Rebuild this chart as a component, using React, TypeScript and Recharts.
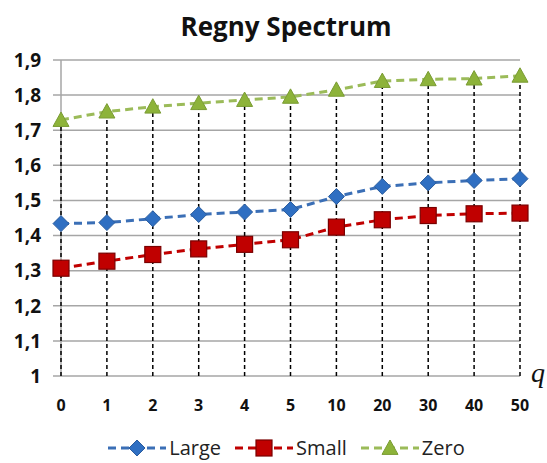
import React from 'react';
import { LineChart, Line, XAxis, YAxis, CartesianGrid, ReferenceLine, Legend } from 'recharts';

const categories = ['0', '1', '2', '3', '4', '5', '10', '20', '30', '40', '50'];
const largeValues = [1.434, 1.437, 1.448, 1.46, 1.467, 1.474, 1.511, 1.54, 1.55, 1.557, 1.562];
const smallValues = [1.307, 1.327, 1.346, 1.362, 1.375, 1.388, 1.424, 1.445, 1.457, 1.462, 1.464];
const zeroValues = [1.729, 1.753, 1.767, 1.777, 1.786, 1.795, 1.815, 1.84, 1.845, 1.847, 1.855];
const yTicks = [1, 1.1, 1.2, 1.3, 1.4, 1.5, 1.6, 1.7, 1.8, 1.9];
const seriesNames = ['Large', 'Small', 'Zero'];

const data = categories.map((q, i) => ({
  q,
  Large: largeValues[i],
  Small: smallValues[i],
  Zero: zeroValues[i],
}));

const COLORS = {
  Large: { line: '#3b6fb6', fill: '#2f6fc2', stroke: '#2a5c9e' },
  Small: { line: '#c00000', fill: '#c00000', stroke: '#7a0000' },
  Zero: { line: '#9bbb59', fill: '#8db33a', stroke: '#7a9c33' },
};

const FONT = '"Open Sans", "DejaVu Sans", sans-serif';

function marker(name: string, cx: number, cy: number, s: number, key?: any) {
  const c = (COLORS as any)[name];
  if (name === 'Large') {
    return (
      <path key={key} d={`M${cx},${cy - s}L${cx + s},${cy}L${cx},${cy + s}L${cx - s},${cy}Z`} fill={c.fill} stroke={c.stroke} strokeWidth={1} />
    );
  }
  if (name === 'Small') {
    return <rect key={key} x={cx - s} y={cy - s} width={2 * s} height={2 * s} fill={c.fill} stroke={c.stroke} strokeWidth={1.2} />;
  }
  return (
    <path key={key} d={`M${cx},${cy - s}L${cx + s},${cy + s * 0.8}L${cx - s},${cy + s * 0.8}Z`} fill={c.fill} stroke={c.stroke} strokeWidth={1} />
  );
}

const makeDot = (name: string) => (props: any) => {
  const { cx, cy, index } = props;
  if (cx == null || cy == null) return <g key={index} />;
  return <g key={index}>{marker(name, cx, cy, 8)}</g>;
};

const LegendContent = () => (
  <div style={{ display: 'flex', justifyContent: 'center', alignItems: 'center', fontFamily: FONT, fontSize: 20, color: '#222', paddingLeft: 40 }}>
    {seriesNames.map((n) => {
      const c = (COLORS as any)[n];
      return (
        <div key={n} style={{ display: 'flex', alignItems: 'center', marginRight: 14 }}>
          <svg width={58} height={22} style={{ marginRight: 3 }}>
            <line x1={0} y1={11} x2={58} y2={11} stroke={c.line} strokeWidth={3} strokeDasharray="8 5" />
            {marker(n, 29, 11, 8)}
          </svg>
          <span>{n}</span>
        </div>
      );
    })}
  </div>
);

const QLabel = (props: any) => {
  const vb = props.viewBox || {};
  return (
    <text x={(vb.x || 0) + (vb.width || 0) + 11} y={(vb.y || 0) + 6} fontFamily='"Liberation Serif", serif' fontStyle="italic" fontSize={28} fill="#111">
      q
    </text>
  );
};

export default function App() {
  return (
    <div style={{ position: 'absolute', left: 0, top: 0, width: 547, height: 463, background: '#fff' }}>
      <LineChart width={547} height={463} data={data} margin={{ top: 60, right: 27, left: 0, bottom: 57 }}>
        <text x={286} y={36} textAnchor="middle" fontFamily={FONT} fontWeight={700} fontSize={26} fill="#111">
          Regny Spectrum
        </text>
        <CartesianGrid vertical={false} stroke="#a6a6a6" strokeWidth={1.5} />
        <XAxis
          dataKey="q"
          type="category"
          padding={{ left: 8, right: 0 }}
          axisLine={false}
          tickLine={false}
          tickMargin={18}
          height={30}
          tick={{ fontFamily: FONT, fontWeight: 700, fontSize: 16, fill: '#111' }}
          label={<QLabel />}
          interval={0}
        />
        <YAxis
          domain={[1, 1.9]}
          ticks={yTicks}
          width={53}
          axisLine={false}
          tickLine={false}
          tickMargin={6}
          tickFormatter={(v: number) => String(v).replace('.', ',')}
          tick={{ fontFamily: FONT, fontWeight: 700, fontSize: 19, fill: '#111' }}
          interval={0}
        />
        <ReferenceLine x="0" stroke="#a6a6a6" strokeWidth={1.5} />
        {categories.map((q, i) => (
          <ReferenceLine
            key={q}
            segment={[{ x: q, y: 1 }, { x: q, y: zeroValues[i] }]}
            stroke="#000"
            strokeWidth={1.5}
            strokeDasharray="4 3"
          />
        ))}
        {seriesNames.map((n) => (
          <Line
            key={n}
            dataKey={n}
            type="linear"
            stroke={(COLORS as any)[n].line}
            strokeWidth={3}
            strokeDasharray="8 5"
            dot={makeDot(n)}
            activeDot={false}
            isAnimationActive={false}
          />
        ))}
        <Legend
          layout="horizontal"
          verticalAlign="middle"
          align="center"
          content={<LegendContent />}
          wrapperStyle={{ top: 434, left: 0, width: 547, bottom: 'auto' }}
        />
      </LineChart>
    </div>
  );
}
